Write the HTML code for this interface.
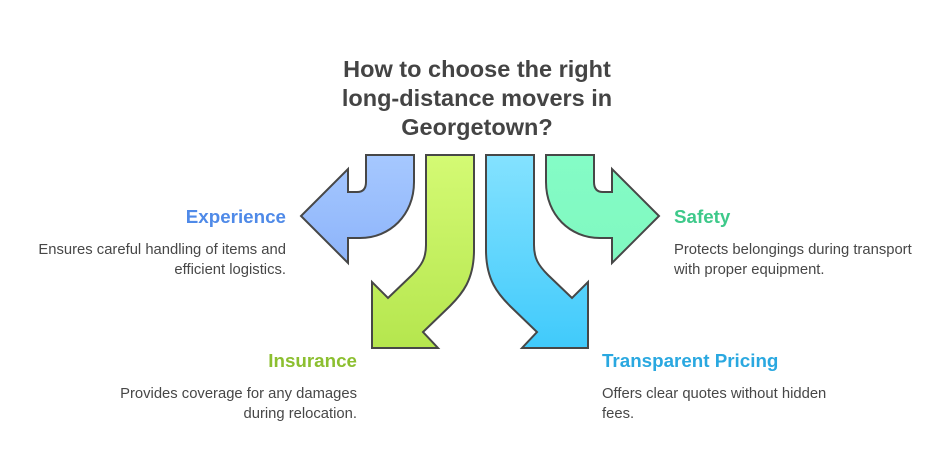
<!DOCTYPE html>
<html><head><meta charset="utf-8"><style>html,body{margin:0;padding:0;background:#fff}svg{display:block}</style></head>
<body>
<svg width="948" height="469" viewBox="0 0 948 469" xmlns="http://www.w3.org/2000/svg" font-family="Liberation Sans, sans-serif">
<defs>
<linearGradient id="gb" x1="0" y1="0" x2="0" y2="1"><stop offset="0" stop-color="#a6c8ff"/><stop offset="1" stop-color="#8db4fa"/></linearGradient>
<linearGradient id="gg" x1="0" y1="0" x2="0" y2="1"><stop offset="0" stop-color="#d4fa74"/><stop offset="1" stop-color="#b5e64e"/></linearGradient>
<linearGradient id="gc" x1="0" y1="0" x2="0" y2="1"><stop offset="0" stop-color="#84e2ff"/><stop offset="1" stop-color="#40cafb"/></linearGradient>
<linearGradient id="gs" x1="0" y1="0" x2="0" y2="1"><stop offset="0" stop-color="#84fcc6"/><stop offset="1" stop-color="#80f8c0"/></linearGradient>
</defs>
<g stroke="#474747" stroke-width="2" stroke-linejoin="miter">
<path fill="url(#gb)" d="M366,155 L414,155 L414,182 C414,215 390,238 360,238 L348,238 L348,263 L301,216 L348,169 L348,192 L357,192 Q366,192 366,182 Z"/>
<path fill="url(#gg)" d="M426,155 L474,155 L474,250 C474,280 462,294 450,306 L423,332 L438,348 L372,348 L372,282 L388,298 L412,275 C422,265 426,258 426,245 Z"/>
<path fill="url(#gc)" d="M534,155 L486,155 L486,250 C486,280 498,294 510,306 L537,332 L522,348 L588,348 L588,282 L572,298 L548,275 C538,265 534,258 534,245 Z"/>
<path fill="url(#gs)" d="M594,155 L546,155 L546,182 C546,215 570,238 600,238 L612,238 L612,263 L659,216 L612,169 L612,192 L603,192 Q594,192 594,182 Z"/>
</g>
<g font-weight="bold" font-size="23.5" fill="#444" text-anchor="middle">
<text x="477" y="77">How to choose the right</text>
<text x="477" y="106">long-distance movers in</text>
<text x="477" y="135">Georgetown?</text>
</g>
<g font-weight="bold" font-size="18.8">
<text x="286" y="223" text-anchor="end" fill="#4f8ae8">Experience</text>
<text x="674" y="223" fill="#3ec98a">Safety</text>
<text x="357" y="367" text-anchor="end" fill="#8cbf30">Insurance</text>
<text x="602" y="367" fill="#2aa8e0">Transparent Pricing</text>
</g>
<g font-size="14.8" fill="#474747">
<text x="286" y="254" text-anchor="end">Ensures careful handling of items and</text>
<text x="286" y="274" text-anchor="end">efficient logistics.</text>
<text x="674" y="254">Protects belongings during transport</text>
<text x="674" y="274">with proper equipment.</text>
<text x="357" y="398" text-anchor="end">Provides coverage for any damages</text>
<text x="357" y="418" text-anchor="end">during relocation.</text>
<text x="602" y="398">Offers clear quotes without hidden</text>
<text x="602" y="418">fees.</text>
</g>
</svg>
</body></html>
